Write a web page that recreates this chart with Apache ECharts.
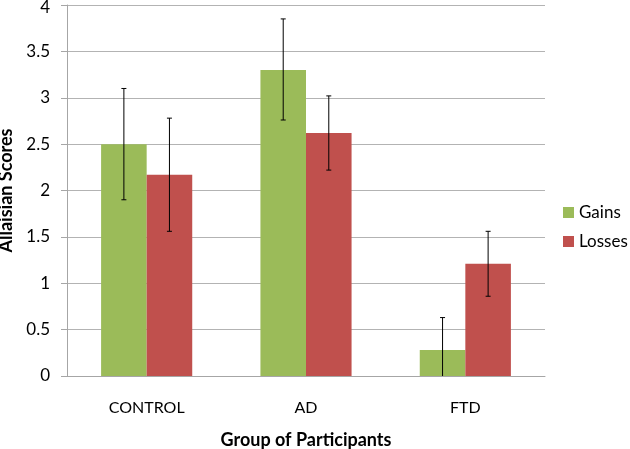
<!DOCTYPE html>
<html><head><meta charset="utf-8">
<script src="https://cdn.jsdelivr.net/npm/echarts@6/dist/echarts.min.js"></script>
<style>html,body{margin:0;padding:0;background:#fff}#c{width:630px;height:449px}</style>
</head><body><div id="c"></div>
<script>
const categories = ['CONTROL', 'AD', 'FTD'];
const gains = [2.5, 3.3, 0.28];
const gainsLow = [1.9, 2.76, 0];
const gainsHigh = [3.1, 3.85, 0.63];
const losses = [2.17, 2.62, 1.21];
const lossesLow = [1.56, 2.22, 0.86];
const lossesHigh = [2.78, 3.02, 1.56];
const yTicks = [0, 0.5, 1, 1.5, 2, 2.5, 3, 3.5, 4];

const FONT = 'Lato';
const chart = echarts.init(document.getElementById('c'), null, {renderer: 'canvas'});

function errSeries(low, high, offsetIdx) {
  return {
    type: 'custom',
    z: 10,
    silent: true,
    data: categories.map((c, i) => [i, low[i], high[i]]),
    renderItem: function (params, api) {
      const i = api.value(0);
      const lo = api.coord([i, api.value(1)]);
      const hi = api.coord([i, api.value(2)]);
      const band = api.size([1, 0])[0];
      const barW = band * 0.286;
      const x = lo[0] + (offsetIdx === 0 ? -barW / 2 : barW / 2);
      const cap = 2.5;
      const st = {stroke: '#000', lineWidth: 1};
      const children = [
        {type: 'line', shape: {x1: x, y1: lo[1], x2: x, y2: hi[1]}, style: st},
        {type: 'line', shape: {x1: x - cap, y1: hi[1], x2: x + cap, y2: hi[1]}, style: st}
      ];
      if (api.value(1) > 0) children.push({type: 'line', shape: {x1: x - cap, y1: lo[1], x2: x + cap, y2: lo[1]}, style: st});
      return {type: 'group', children: children};
    }
  };
}

const yMax = yTicks[yTicks.length - 1];

chart.setOption({
  animation: false,
  textStyle: {fontFamily: FONT},
  grid: {left: 67, right: 85, top: 5, bottom: 73, containLabel: false, outerBoundsMode: 'none'},
  legend: {
    orient: 'vertical', left: 563, top: 204, padding: 0,
    itemWidth: 11, itemHeight: 11, itemGap: 12,
    icon: 'rect',
    textStyle: {fontFamily: FONT, fontSize: 17, color: '#000'},
    data: ['Gains', 'Losses']
  },
  xAxis: {
    type: 'category', data: categories,
    axisLine: {lineStyle: {color: '#a6a6a6', width: 1}},
    axisTick: {show: false},
    axisLabel: {fontFamily: FONT, fontSize: 16, color: '#000', margin: 24},
    name: 'Group of Participants', nameLocation: 'middle', nameGap: 55,
    nameTextStyle: {fontFamily: FONT, fontSize: 18, fontWeight: 'bold', color: '#000'}
  },
  yAxis: {
    type: 'value', min: yTicks[0], max: yMax, interval: 0.5,
    axisLine: {show: true, lineStyle: {color: '#a6a6a6', width: 1}},
    axisTick: {show: true, length: 6, lineStyle: {color: '#a6a6a6'}},
    splitLine: {lineStyle: {color: '#b3b3b3', width: 1}},
    axisLabel: {fontFamily: FONT, fontSize: 17, color: '#000', margin: 17,
      formatter: v => v === yMax ? '{t|' + v + '}' : String(v),
      rich: {t: {fontFamily: FONT, fontSize: 17, color: '#000', padding: [6, 0, 0, 0]}}},
    name: 'Allaisian Scores', nameLocation: 'middle', nameGap: 46, nameRotate: 90,
    nameTextStyle: {fontFamily: FONT, fontSize: 18, fontWeight: 'bold', color: '#000'}
  },
  series: [
    {name: 'Gains', type: 'bar', data: gains, barGap: '0%', barCategoryGap: '42.8%',
      itemStyle: {color: '#9BBB59'}},
    {name: 'Losses', type: 'bar', data: losses, barGap: '0%', barCategoryGap: '42.8%',
      itemStyle: {color: '#C0504D'}},
    errSeries(gainsLow, gainsHigh, 0),
    errSeries(lossesLow, lossesHigh, 1)
  ]
});
</script></body></html>
